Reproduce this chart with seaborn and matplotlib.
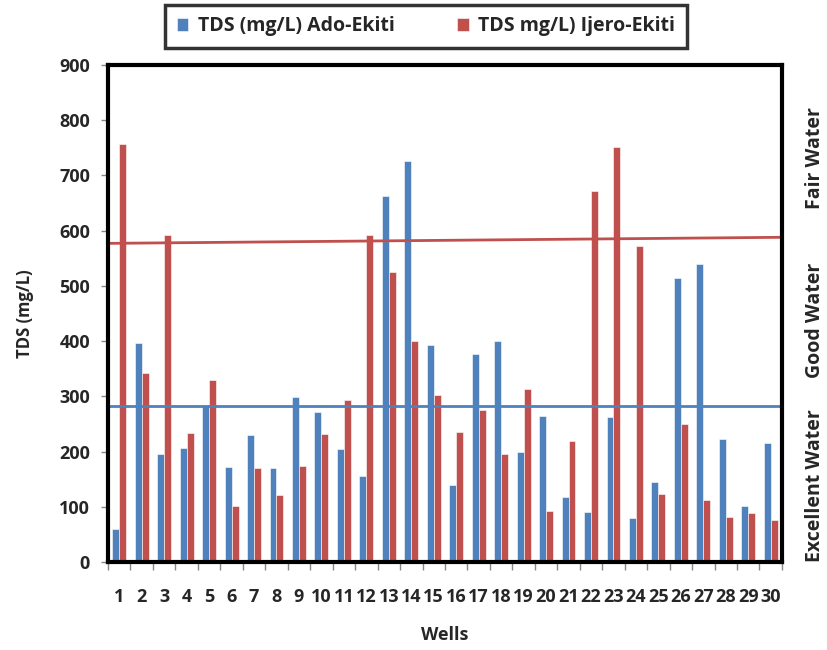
import matplotlib
matplotlib.use("Agg")
import matplotlib.pyplot as plt
import seaborn as sns
import pandas as pd
import numpy as np

wells = [str(i) for i in range(1, 31)]
ado = [60, 397, 195, 206, 285, 172, 230, 170, 298, 272, 205, 155, 662, 726, 393,
       140, 376, 400, 200, 265, 118, 90, 262, 79, 145, 515, 540, 222, 102, 215]
ijero = [757, 343, 593, 234, 330, 102, 170, 121, 174, 231, 294, 593, 525, 400, 302,
         236, 275, 196, 314, 93, 219, 671, 751, 573, 123, 250, 113, 82, 88, 76]
series_names = ["TDS (mg/L) Ado-Ekiti", "TDS mg/L) Ijero-Ekiti"]
colors = ["#4F81BD", "#C0504D"]
blue_line = [282, 282]
red_line = [577, 588]
zone_labels = ["Excellent Water", "Good Water", "Fair Water"]
zone_y = [139, 438, 732]

sns.set_theme(style="white")
plt.rcParams['font.family'] = ['Open Sans', 'DejaVu Sans']
plt.rcParams['font.weight'] = 'bold'

df = pd.DataFrame({
    "Wells": wells * 2,
    "TDS": ado + ijero,
    "Series": [series_names[0]] * 30 + [series_names[1]] * 30,
})

fig = plt.figure(figsize=(8.28, 6.5), dpi=100)
ax = fig.add_axes([0.1304, 0.1354, 0.8140, 0.7646])
sns.barplot(data=df, x="Wells", y="TDS", hue="Series", palette=colors,
            width=0.62, gap=0, saturation=1, ax=ax, legend=True,
            edgecolor="white", linewidth=0.4)

ax.plot([-0.5, 29.5], blue_line, color=colors[0], lw=2, clip_on=False)
ax.plot([-0.5, 29.5], red_line, color=colors[1], lw=2)

ax.set_xlim(-0.5, 29.5)
ax.set_ylim(0, 900)
ax.set_yticks(range(0, 901, 100))
ax.set_xlabel("Wells", fontsize=13, fontweight="bold", va="center")
ax.xaxis.set_label_coords(0.5, -73 / 497)
ax.set_ylabel("TDS (mg/L)", fontsize=12, fontweight="bold", va="center")
ax.yaxis.set_label_coords(-83 / 674, 0.5)
for s in ax.spines.values():
    s.set_visible(True)
    s.set_color("black")
    s.set_linewidth(3)
ax.tick_params(axis="y", labelsize=13, length=5, width=1, color="#888888", left=True, pad=8)
ax.tick_params(axis="x", labelsize=13, length=0, pad=19)
for lbl in ax.get_xticklabels() + ax.get_yticklabels():
    lbl.set_fontweight("bold")
ax.set_xticks(np.arange(-0.5, 30, 1), minor=True)
ax.tick_params(axis="x", which="minor", length=6, width=1, color="#888888", bottom=True)

for lab, yv in zip(zone_labels, zone_y):
    ax.text(1.049, yv, lab, transform=ax.get_yaxis_transform(), rotation=90,
            ha="center", va="center", fontsize=14, fontweight="bold")

leg = ax.legend(loc="upper center", bbox_to_anchor=(0.5145, 0.993), bbox_transform=fig.transFigure,
                ncol=2, frameon=True, fontsize=14, handlelength=0.6, handleheight=0.6,
                columnspacing=3.2, borderpad=0.6, fancybox=False, handletextpad=0.5,
                borderaxespad=0)
leg.get_frame().set_edgecolor("black")
leg.get_frame().set_linewidth(2.5)
for t in leg.get_texts():
    t.set_fontweight("bold")

fig.savefig("out.png", dpi=100)
